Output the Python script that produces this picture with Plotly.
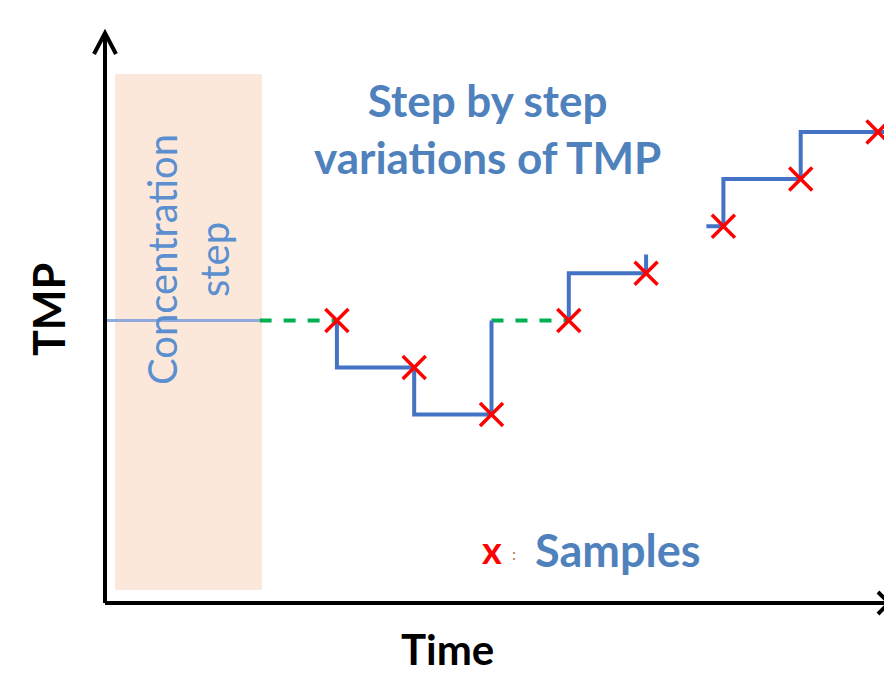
import plotly.graph_objects as go

# ---- data (time units, TMP units) ----
sample_t = [3, 4, 5, 6, 7, 8, 9, 10]
sample_tmp = [6, 5, 4, 6, 7, 8, 9, 10]

# blue step segments
seg1_t = [3, 3, 4, 4, 5, 5]
seg1_tmp = [6, 5, 5, 4, 4, 6]
seg2_t = [6, 6, 7, 7]
seg2_tmp = [6, 7, 7, 7.4]
seg3_t = [7.78, 8, 8, 9, 9, 10.2]
seg3_tmp = [8, 8, 9, 9, 10, 10]
# green dashed holds
hold1_t = [2, 3]
hold1_tmp = [6, 6]
hold2_t = [5, 6]
hold2_tmp = [6, 6]
# concentration step baseline
conc_t = [0, 2]
conc_tmp = [6, 6]
conc_band = [0.13, 2.03]

W, H = 884, 677
X0PX, Y0PX = 105, 603
UX, UY = 77.3, 47.1
xr = [(0 - X0PX) / UX, (W - X0PX) / UX]
yr = [(Y0PX - H) / UY, (Y0PX - 0) / UY]

def dx(px):
    return (px - X0PX) / UX

def dy(py):
    return (Y0PX - py) / UY

BLUE = "#4472C4"
TXT = "#4F81BD"

fig = go.Figure()

fig.add_shape(type="rect", x0=conc_band[0], x1=conc_band[1], y0=dy(590), y1=dy(74),
              fillcolor="#FCE8DA", line_width=0, layer="below")

fig.add_trace(go.Scatter(x=conc_t, y=conc_tmp, mode="lines",
                         line=dict(color="#8FAADC", width=3), hoverinfo="skip"))
for tx, ty in [(hold1_t, hold1_tmp), (hold2_t, hold2_tmp)]:
    fig.add_trace(go.Scatter(x=tx, y=ty, mode="lines",
                             line=dict(color="#00B050", width=4, dash="dash"), hoverinfo="skip"))
for tx, ty in [(seg1_t, seg1_tmp), (seg2_t, seg2_tmp), (seg3_t, seg3_tmp)]:
    fig.add_trace(go.Scatter(x=tx, y=ty, mode="lines",
                             line=dict(color=BLUE, width=4), hoverinfo="skip"))
fig.add_trace(go.Scatter(x=sample_t, y=sample_tmp, mode="markers",
                         marker=dict(symbol="x-thin", size=23, line=dict(color="#FF0000", width=3.5)),
                         hoverinfo="skip"))

# axes with arrows
ax = dict(color="black", width=4)
fig.add_shape(type="line", x0=0, x1=0, y0=0, y1=dy(33), line=ax)
fig.add_shape(type="line", x0=0, x1=dx(890), y0=0, y1=0, line=ax)
fig.add_shape(type="path",
              path=f"M {dx(94)} {dy(54)} L {dx(105)} {dy(33)} L {dx(116)} {dy(54)}", line=ax)
fig.add_shape(type="path",
              path=f"M {dx(878)} {dy(592)} L {dx(889)} {dy(603)} L {dx(878)} {dy(614)}", line=ax)

FONT = "Lato"
fig.add_annotation(x=dx(487), y=dy(128), text="<b>Step by step<br>variations of TMP</b>",
                   showarrow=False, font=dict(family=FONT, size=44, color=TXT), align="center")
fig.add_annotation(x=dx(188), y=dy(260), text="Concentration<br>step", textangle=-90,
                   showarrow=False, font=dict(family=FONT, size=40, color="#5B8FD0"), align="center")
fig.add_annotation(x=dx(48), y=dy(310), text="<b>TMP</b>", textangle=-90,
                   showarrow=False, font=dict(family=FONT, size=43, color="black"))
fig.add_annotation(x=dx(447), y=dy(676), yanchor="bottom", text="<b>Time</b>",
                   showarrow=False, font=dict(family=FONT, size=42, color="black"))
fig.add_annotation(x=dx(492), y=dy(549), text="<b>x</b>",
                   showarrow=False, font=dict(family=FONT, size=38, color="#FF0000"))
fig.add_annotation(x=dx(514), y=dy(553), text=":",
                   showarrow=False, font=dict(family=FONT, size=16, color="#A0785A"))
fig.add_annotation(x=dx(617), y=dy(550), text="<b>Samples</b>",
                   showarrow=False, font=dict(family=FONT, size=45, color=TXT))

fig.update_layout(width=W, height=H, margin=dict(l=0, r=0, t=0, b=0),
                  plot_bgcolor="white", paper_bgcolor="white", showlegend=False,
                  xaxis=dict(range=xr, visible=False, fixedrange=True),
                  yaxis=dict(range=yr, visible=False, fixedrange=True))
fig.write_html("out.html", config={"displayModeBar": False, "staticPlot": True},
               post_script="document.body.style.margin='0';document.body.style.overflow='hidden';")
